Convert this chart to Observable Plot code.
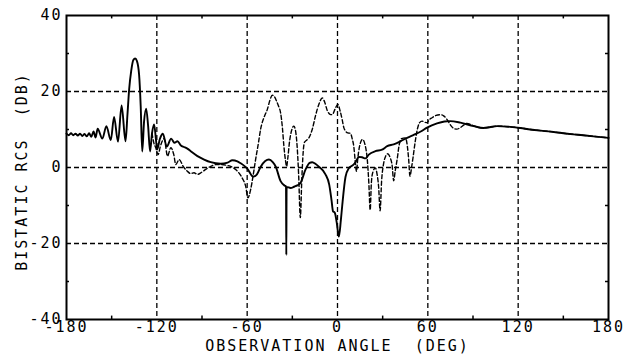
<!DOCTYPE html>
<html><head><meta charset="utf-8">
<script src="https://cdn.jsdelivr.net/npm/d3@7"></script>
<script src="https://cdn.jsdelivr.net/npm/@observablehq/plot@0.6"></script>
<style>body{margin:0;background:#fff}</style>
</head><body><div id="chart"></div>
<script>
const solidAngle = [-180,-178.5,-177,-175.5,-174,-172.5,-171,-169.5,-168,-166.5,-165,-163.5,-162,-160.7,-159.3,-156.2,-153.5,-150.6,-148.4,-145.8,-143.4,-140.8,-139.5,-138.4,-137,-135.6,-134.4,-133.2,-131.8,-130.7,-129.7,-128.5,-127.1,-125.8,-124.5,-123.2,-121.8,-120.5,-119.8,-118,-116,-113.4,-110.5,-108.3,-106.3,-104,-101.9,-99.5,-97.5,-93,-88.6,-84.2,-77.6,-73,-69.8,-66.5,-64.3,-61.5,-59.9,-56,-53.5,-51,-48,-45.5,-43,-41,-37.8,-35,-34.2,-34.0,-33.8,-31.2,-28.5,-26.7,-24.5,-21.2,-18.5,-16.8,-14.5,-12.4,-8,-5.5,-4,-3,-1.8,-0.5,0.9,2.2,3.1,5.3,7.5,10.8,12.5,14.1,16.3,18.6,20.8,25.2,29.6,33,37.3,41.8,46.2,50.6,55,59.5,66.1,71,74.9,81.6,90.4,97,101,105.9,114.7,121.4,128,140,150,160,170,180];
const solidRcs = [8.9,8.5,9.0,8.5,8.9,8.4,8.9,8.3,8.8,8.2,9.0,8.1,9.5,7.9,10.2,7.6,10.9,7.2,13.3,6.8,16.3,6.9,14,20.5,25.5,28.3,28.7,28,24.5,16,4.2,12,15.5,11,4.2,9,11.3,7,4.7,7.5,8.9,5.5,7.6,6.5,6.9,5.8,5.4,4.9,4.3,3,2.1,1.4,1.0,1.3,1.9,1.6,1.1,0.3,-0.3,-2.4,-1.8,0.2,1.7,2.1,1.4,0.2,-3.6,-4.8,-5.0,-23,-5.1,-5.4,-5.0,-4.7,-4.0,-0.5,1.2,1.4,0.9,0.2,-1.8,-4.5,-8.5,-11.5,-11.9,-14.5,-18.2,-14,-10.2,-2.5,-0.2,0.8,1.8,2.8,2.7,2.4,3.4,4.3,4.7,5.6,6.1,6.9,7.8,8.6,9.4,10.5,11.6,12.1,12.2,11.8,10.9,10.4,10.6,10.9,10.7,10.4,10.0,9.5,9.0,8.6,8.2,7.8];
const dashedAngle = [-123.2,-122,-120.7,-119.2,-117.5,-115.1,-112.9,-110.7,-108.8,-107.4,-105.2,-102.5,-99.7,-97.5,-95.3,-93,-90.8,-87.5,-84.2,-80,-77.6,-74,-71,-67.5,-65.5,-63,-61,-59.5,-57.7,-56,-54.4,-52.5,-51.1,-48.5,-46.6,-44.8,-43.3,-41.8,-40.5,-39,-37.8,-36.6,-35.6,-34.6,-33.8,-33,-31.8,-30.3,-29,-27.8,-26.8,-25.8,-24.7,-23.7,-22.8,-22,-20.5,-19,-16.8,-14.5,-12.4,-10.1,-8.5,-6.8,-5,-3.5,-1.5,0.2,1.8,3.1,4.2,5.3,6.8,8.6,9.8,10.8,11.7,12.6,13.5,14.6,16.6,18.4,19.8,20.8,21.7,22.5,23.5,25.2,26.3,27.3,28.3,29.3,30.7,32,33.2,35,36.3,37.3,38.3,39.6,41,42.5,45.1,46.4,47.3,48.1,49.2,50.3,51.5,53,54.5,56.2,58,59.5,61,62.8,65.5,68.3,70.5,72.8,75,77.5,79.3,81.6,84,86,88.5,90.4,93,97,101,105.9,114.7,121.4,128,140,150,160,170,180];
const dashedRcs = [9,6.5,5.2,3.4,5.8,7.6,3.0,5.2,3.5,0.8,2.1,0.3,-1.0,-1.6,-1.4,-1.8,-1.4,-0.5,0.3,0.8,0.8,0.6,0.3,-0.6,-1.4,-3,-4.9,-8,-5.8,-2,2.1,6.5,10,13.5,15.3,17.8,19.0,18.6,17.5,16,14.4,10.5,5.6,2,0.3,2.5,7,10,10.9,9.5,5.5,-2,-13.2,-3,4,6.6,7.2,7.8,10,13.8,16.6,18.3,17.2,15,14,13.9,15.5,16.6,14.8,12.6,10.5,9.6,9.1,9.0,7.5,5.6,2,-1.0,2.5,5.5,7.4,5.8,2,-4,-11.2,-4,-1.2,-0.1,-1.8,-5,-11.4,-3.5,1.2,3.0,3.6,2.6,0.5,-3.5,-1,2.1,6,7.6,7.8,5.6,2,-2.3,0,3,6.5,10,11.8,12.2,11.9,11.8,12.6,13.1,13.7,13.9,13.6,12.6,11.2,10.2,10.1,10.5,11.2,11.6,11.3,11.0,10.6,10.4,10.6,10.9,10.7,10.4,10.0,9.5,9.0,8.6,8.2,7.8];
const xTicks = [-180,-120,-60,0,60,120,180];
const yTicks = [-40,-20,0,20,40];
const xGrid = [-120,-60,0,60,120];
const yGrid = [-20,0,20];
const minorX = [-150,-90,-30,30,90,150];
const minorY = [-30,-10,10,30];
const xLabel = "OBSERVATION ANGLE  (DEG)";
const yLabel = "BISTATIC RCS  (DB)";

const solid = solidAngle.map((a,i)=>({a, v: solidRcs[i]}));
const dashed = dashedAngle.map((a,i)=>({a, v: dashedRcs[i]}));

const chart = Plot.plot({
  width: 637, height: 356,
  marginLeft: 66, marginRight: 29, marginTop: 15, marginBottom: 37,
  style: {fontFamily: "'DejaVu Sans Mono', monospace", fontSize: "15px", letterSpacing: "2px", color: "#000", background: "#fff"},
  x: {domain: [-180, 180]},
  y: {domain: [-40, 40]},
  marks: [
    Plot.ruleX(xGrid, {stroke: "#000", strokeWidth: 1.3, strokeDasharray: "5,3"}),
    Plot.ruleY(yGrid, {stroke: "#000", strokeWidth: 1.3, strokeDasharray: "5,3"}),
    Plot.ruleX(minorX, {x: d => d, y1: -40, y2: -39.1, stroke: "#000", strokeWidth: 1.5}),
    Plot.ruleX(minorX, {x: d => d, y1: 40, y2: 39.1, stroke: "#000", strokeWidth: 1.5}),
    Plot.ruleY(minorY, {y: d => d, x1: -180, x2: -178, stroke: "#000", strokeWidth: 1.5}),
    Plot.ruleY(minorY, {y: d => d, x1: 180, x2: 178, stroke: "#000", strokeWidth: 1.5}),
    Plot.line(dashed, {x: "a", y: "v", curve: "monotone-x", stroke: "#000", strokeWidth: 1.4, strokeDasharray: "4,2.5"}),
    Plot.line(solid, {x: "a", y: "v", curve: "monotone-x", stroke: "#000", strokeWidth: 1.9}),
    Plot.frame({stroke: "#000", strokeWidth: 2}),
    Plot.axisX({ticks: xTicks, tickSize: 0, tickPadding: 2, tickFormat: d => String(d), label: null}),
    Plot.axisY({ticks: yTicks, tickSize: 0, tickPadding: 4, tickFormat: d => String(d), label: null}),
    Plot.text([xLabel], {text: d => d, frameAnchor: "bottom", lineAnchor: "middle", textAnchor: "middle", dy: 27, fontSize: 15, style: "letter-spacing:1.5px"}),
    Plot.text([yLabel], {text: d => d, frameAnchor: "left", lineAnchor: "middle", textAnchor: "middle", rotate: -90, dx: -44, dy: 4, fontSize: 15})
  ]
});
document.getElementById("chart").appendChild(chart);
</script>
</body></html>
